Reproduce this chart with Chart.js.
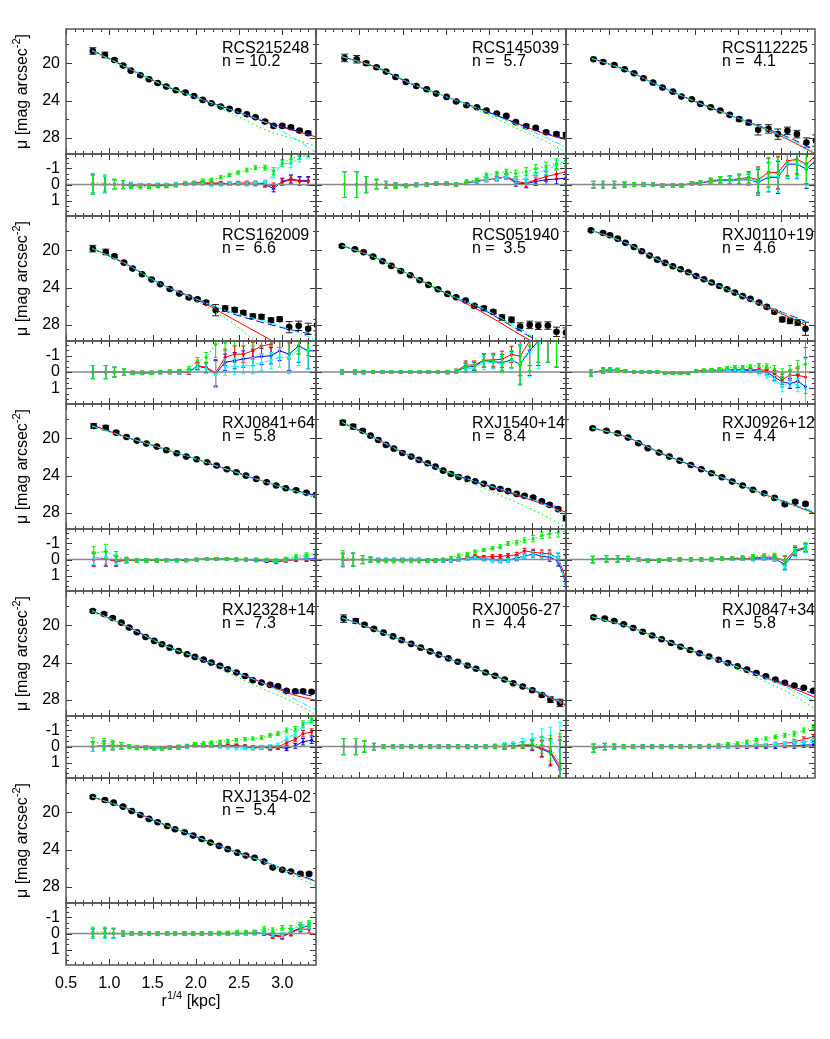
<!DOCTYPE html>
<html><head><meta charset="utf-8">
<script src="https://cdn.jsdelivr.net/npm/chart.js@4.4.0/dist/chart.umd.min.js"></script>
<style>
html,body{margin:0;padding:0;background:#fff;}
#wrap{position:relative;width:830px;height:1039px;overflow:hidden;background:#fff;}
canvas{position:absolute;}
</style></head><body><div id="wrap"></div>
<script>
// ---------- labels / ticks ----------
const names = ['RCS215248','RCS145039','RCS112225','RCS162009','RCS051940','RXJ0110+19','RXJ0841+64','RXJ1540+14','RXJ0926+12','RXJ2328+14','RXJ0056-27','RXJ0847+34','RXJ1354-02'];
const sersicN = [10.2,5.7,4.1,6.6,3.5,4.6,5.8,8.4,4.4,7.3,4.4,5.8,5.4];
const MAIN_TICKS = [20,24,28];
const MAIN_MINOR = [18,22,26];
const RES_TICKS = [-1,0,1];
const X_TICKS = [0.5,1.0,1.5,2.0,2.5,3.0];
const MX = [0.8,1.2,1.6,2.0,2.4,2.8,3.1,3.4];
const MX6 = [0.8,1.2,1.6,2.0,2.4,2.8,3.1,3.28];

// ---------- panel 1 RCS215248 ----------
const r1 = [0.81,0.95,1.06,1.16,1.25,1.36,1.46,1.56,1.66,1.77,1.88,1.98,2.08,2.18,2.29,2.39,2.49,2.59,2.69,2.80,2.90,3.00,3.10,3.20,3.30];
const mu1 = [18.70,19.12,19.66,20.26,20.80,21.29,21.72,22.11,22.50,22.89,23.14,23.50,23.92,24.28,24.64,24.88,25.10,25.45,25.77,26.24,26.70,26.70,26.84,27.20,27.48];
const e1 = [0.35,0.3,0.15,0.12,0.1,0.1,0.08,0.08,0.08,0.08,0.08,0.08,0.08,0.08,0.08,0.08,0.1,0.1,0.1,0.12,0.15,0.15,0.15,0.15,0.2];
const re1 = [0.6,0.5,0.3,0.25,0.15,0.12,0.1,0.1,0.1,0.1,0.1,0.1,0.1,0.1,0.1,0.1,0.1,0.12,0.12,0.15,0.2,0.2,0.25,0.25,0.25];
const fR1 = [18.6,20.45,22.25,23.62,24.95,26.25,27.1,27.9];
const fB1 = [18.6,20.45,22.25,23.62,24.95,26.25,27.05,27.85];
const fG1 = [18.75,20.4,22.2,23.7,25.3,27.1,28.0,28.9];
const fC1 = [18.65,20.45,22.25,23.62,24.95,26.3,27.8,29.6];
const dR1 = [0,0,0,0,0.05,0.05,0.05,0.05,0.05,0,-0.05,-0.1,-0.1,-0.1,-0.1,-0.05,-0.1,-0.1,-0.1,-0.05,0.1,-0.15,-0.3,-0.2,-0.2];
const dB1 = [0,0,0,0,0.05,0.05,0.05,0.05,0.05,0,-0.05,-0.1,-0.1,-0.05,-0.05,-0.05,-0.05,-0.05,-0.05,0,0.25,-0.2,-0.35,-0.25,-0.25];
const dG1 = [-0.1,-0.1,-0.05,0,0.1,0.15,0.15,0.1,0.1,0.05,-0.05,-0.1,-0.25,-0.3,-0.45,-0.6,-0.75,-0.9,-1.05,-1.05,-0.85,-1.35,-1.6,-1.8,-2.0];
const dC1 = [0,0,0,0,0,0.05,0.05,0,0,-0.05,-0.05,-0.05,-0.05,0,0,-0.05,-0.05,-0.05,-0.1,-0.15,-0.6,-1.3,-1.3,-1.65,-1.9];

// ---------- panel 2 RCS145039 ----------
const r2 = [0.83,0.97,1.08,1.20,1.31,1.42,1.54,1.66,1.78,1.89,2.01,2.12,2.24,2.36,2.47,2.59,2.70,2.81,2.93,3.04,3.16,3.28,3.39];
const mu2 = [19.44,19.58,20.01,20.44,20.90,21.47,22.0,22.43,22.78,23.25,23.60,24.10,24.49,24.70,25.06,25.38,25.63,26.30,26.73,26.91,27.37,27.58,27.66];
const e2 = [0.4,0.4,0.2,0.12,0.1,0.1,0.08,0.08,0.08,0.08,0.08,0.08,0.08,0.08,0.1,0.1,0.1,0.12,0.2,0.15,0.15,0.2,0.25];
const re2 = [0.8,0.8,0.5,0.3,0.2,0.15,0.1,0.1,0.1,0.1,0.1,0.1,0.1,0.1,0.12,0.12,0.15,0.2,0.25,0.25,0.3,0.3,0.35];
const fR2 = [19.3,20.45,22.2,23.55,24.9,26.35,27.4,28.2];
const fB2 = [19.3,20.45,22.2,23.55,24.9,26.35,27.35,28.1];
const fG2 = [19.3,20.4,22.15,23.6,25.1,26.9,28.1,29.55];
const fC2 = [19.3,20.45,22.2,23.55,24.95,26.5,27.7,29.0];
const dR2 = [0,0,0,0,0,0.05,0.05,0,0,-0.05,-0.05,0,-0.1,-0.25,-0.3,-0.37,-0.5,-0.2,-0.1,-0.3,-0.5,-0.65,-0.8];
const dB2 = [0,0,0,0,0,0.05,0.05,0,0,-0.05,-0.05,0,-0.1,-0.2,-0.3,-0.35,-0.5,-0.1,-0.05,-0.2,-0.3,-0.35,-0.4];
const dG2 = [0,0,0,-0.05,0,0.1,0.1,0.05,0,-0.05,-0.05,0,-0.2,-0.3,-0.6,-0.7,-0.8,-0.7,-0.8,-1.0,-1.1,-1.3,-1.5];
const dC2 = [0,0,0,0,0,0.05,0.05,0,0,-0.05,-0.05,0,-0.1,-0.25,-0.3,-0.35,-0.5,-0.3,-0.35,-0.7,-0.9,-1.2,-1.5];

// ---------- panel 3 RCS112225 ----------
const r3 = [0.82,0.93,1.06,1.18,1.29,1.40,1.51,1.62,1.74,1.84,1.96,2.06,2.18,2.29,2.40,2.51,2.62,2.73,2.85,2.96,3.07,3.18,3.29,3.40];
const mu3 = [19.58,19.87,20.19,20.65,21.08,21.61,22.08,22.61,23.04,23.57,23.85,24.35,24.70,25.06,25.52,25.98,26.34,27.12,27.02,27.58,27.23,27.58,28.48,28.26];
const e3 = [0.12,0.12,0.1,0.08,0.08,0.08,0.08,0.08,0.08,0.08,0.08,0.08,0.08,0.1,0.15,0.2,0.25,0.55,0.45,0.55,0.4,0.4,0.5,0.6];
const re3 = [0.2,0.2,0.2,0.15,0.12,0.1,0.1,0.1,0.1,0.1,0.1,0.12,0.15,0.2,0.25,0.3,0.35,0.8,0.9,1.0,0.9,0.9,1.2,1.5];
const fR3 = [19.5,20.75,22.5,24.1,25.55,27.0,28.25,29.7];
const fB3 = [19.5,20.75,22.5,24.1,25.5,26.9,28.0,29.3];
const fG3 = [19.5,20.75,22.5,24.1,25.55,27.05,28.3,29.75];
const fC3 = [19.5,20.75,22.5,24.1,25.52,26.95,28.1,29.5];
const dR3 = [0,0,0,0,0,0,0,0.05,0.05,0.05,-0.08,-0.1,-0.25,-0.3,-0.3,-0.35,-0.45,-0.3,-0.76,-0.76,-1.47,-1.57,-1.27,-1.8];
const dB3 = [0,0,0,0,0,0,0,0.05,0.05,0.05,-0.08,-0.1,-0.2,-0.25,-0.25,-0.3,-0.3,-0.15,-0.45,-0.45,-1.27,-1.27,-0.96,-1.5];
const dG3 = [0,0,0,0,0,0,0,0.05,0.05,0.05,-0.08,-0.1,-0.25,-0.3,-0.3,-0.35,-0.4,-0.25,-0.7,-0.7,-1.4,-1.5,-1.2,-1.7];
const dC3 = [0,0,0,0,0,0,0,0.05,0.05,0.05,-0.08,-0.1,-0.2,-0.25,-0.25,-0.3,-0.3,-0.2,-0.5,-0.5,-1.3,-1.3,-1.0,-1.6];

// ---------- panel 4 RCS162009 ----------
const r4 = [0.81,0.96,1.06,1.17,1.27,1.38,1.49,1.59,1.70,1.81,1.92,2.02,2.12,2.23,2.34,2.45,2.55,2.66,2.76,2.87,2.97,3.08,3.19,3.30,3.40];
const mu4 = [19.84,20.19,20.65,21.33,21.97,22.57,23.14,23.64,24.14,24.64,25.06,25.24,25.60,26.41,26.24,26.38,26.70,27.06,27.12,27.48,27.37,28.22,28.08,28.40,28.01];
const e4 = [0.35,0.3,0.15,0.1,0.08,0.08,0.08,0.08,0.08,0.1,0.1,0.12,0.2,0.6,0.3,0.25,0.25,0.25,0.25,0.25,0.25,0.6,0.5,0.6,0.6];
const re4 = [0.4,0.4,0.3,0.2,0.1,0.1,0.1,0.1,0.1,0.12,0.15,0.2,0.3,0.8,0.5,0.5,0.5,0.5,0.5,0.5,0.6,1.0,1.0,1.1,1.2];
const fR4 = [19.8,21.5,23.65,25.2,27.2,29.25,30.8,32.3];
const fB4 = [19.8,21.5,23.65,25.2,26.7,27.8,28.5,29.1];
const fG4 = [19.8,21.5,23.6,25.4,27.6,30.5,32.0,33.5];
const fC4 = [19.8,21.5,23.65,25.2,26.6,27.6,28.5,29.6];
const dR4 = [0,0,0,0,0.05,0.05,0.05,0,0,0,0,-0.39,-0.29,0.04,-0.9,-1.1,-1.1,-1.3,-1.6,-1.7,-2.1,-1.8,-2.1,-2.1,-2.1];
const dB4 = [0,0,0,0,0.05,0.05,0.05,0,0,0,0,-0.35,-0.25,0.1,-0.6,-0.7,-0.8,-0.9,-0.95,-1.0,-1.3,-1.1,-1.6,-1.3,-1.3];
const dG4 = [0,0,0,0,0.05,0.05,0.05,0,-0.05,-0.05,-0.2,-0.7,-0.9,-1.7,-1.8,-2.1,-2.1,-2.1,-2.1,-2.1,-2.1,-2.1,-2.1,-2.1,-2.1];
const dC4 = [0,0,0,0,0.05,0.05,0.05,0,0,0,-0.05,-0.3,-0.2,0.15,-0.3,-0.35,-0.39,-0.4,-0.6,-0.7,-0.9,-0.9,-1.4,-1.3,-1.9];

// ---------- panel 5 RCS051940 ----------
const r5 = [0.80,0.95,1.05,1.16,1.27,1.37,1.48,1.59,1.70,1.80,1.91,2.02,2.12,2.23,2.33,2.44,2.55,2.65,2.76,2.86,2.97,3.07,3.18,3.28,3.39];
const mu5 = [19.55,19.90,20.22,20.69,21.18,21.68,22.22,22.68,23.21,23.71,24.17,24.67,25.02,25.38,25.95,26.20,26.59,27.20,27.44,28.16,27.98,28.08,28.05,28.72,28.80];
const e5 = [0.15,0.12,0.1,0.08,0.08,0.08,0.08,0.08,0.08,0.08,0.08,0.08,0.1,0.12,0.15,0.2,0.2,0.3,0.3,0.4,0.4,0.4,0.4,0.5,0.5];
const re5 = [0.12,0.12,0.1,0.08,0.08,0.08,0.08,0.08,0.08,0.08,0.08,0.1,0.12,0.25,0.25,0.4,0.4,0.5,0.5,1.2,1.5,1.5,1.5,1.8,1.8];
const fR5 = [19.5,20.85,22.7,24.6,26.5,28.7,30.3,31.9];
const fB5 = [19.5,20.85,22.7,24.6,26.2,28.3,29.9,31.5];
const fG5 = [19.5,20.85,22.7,24.6,26.25,28.35,30.0,31.6];
const fC5 = [19.5,20.85,22.7,24.6,26.1,28.1,29.8,31.4];
const dR5 = [0,0,0,0,0,0,0,0,0,0,0,0,-0.05,-0.43,-0.43,-0.72,-0.75,-0.78,-1.08,-0.98,-1.9,-2.1,-2.1,-2.1,-2.1];
const dB5 = [0,0,0,0,0,0,0,0,0,0,0,0,-0.05,-0.3,-0.35,-0.7,-0.65,-0.57,-0.75,-0.47,-1.3,-1.9,-2.1,-2.1,-2.1];
const dG5 = [0,0,0,0,0,0,0,0,0,0,0,0,-0.05,-0.3,-0.4,-0.7,-0.7,-0.6,-0.8,-0.4,-1.6,-2.1,-2.1,-2.1,-2.1];
const dC5 = [0,0,0,0,0,0,0,0,0,0,0,0,-0.05,-0.2,-0.25,-0.55,-0.6,-0.45,-0.7,-0.5,-1.2,-1.7,-2.1,-2.1,-2.1];

// ---------- panel 6 RXJ0110+19 ----------
const r6 = [0.79,0.93,1.01,1.10,1.19,1.29,1.38,1.47,1.56,1.65,1.74,1.83,1.92,2.01,2.10,2.19,2.28,2.37,2.46,2.55,2.64,2.74,2.83,2.92,3.01,3.10,3.19,3.28];
const mu6 = [17.88,18.16,18.41,18.77,19.20,19.66,20.12,20.58,21.01,21.36,21.72,22.04,22.36,22.75,23.10,23.46,23.82,24.17,24.53,24.91,25.20,25.60,26.06,26.59,27.41,27.55,27.73,28.40];
const e6 = [0.12,0.1,0.1,0.08,0.08,0.08,0.08,0.08,0.08,0.08,0.08,0.08,0.08,0.08,0.08,0.08,0.08,0.08,0.08,0.08,0.08,0.1,0.1,0.15,0.25,0.3,0.3,0.7];
const re6 = [0.2,0.15,0.12,0.1,0.08,0.08,0.08,0.08,0.08,0.08,0.08,0.08,0.08,0.08,0.08,0.08,0.08,0.08,0.1,0.1,0.1,0.12,0.15,0.2,0.3,0.3,0.4,1.8];
const fR6 = [17.9,19.25,21.15,22.75,24.3,25.95,27.2,28.05];
const fB6 = [17.9,19.25,21.15,22.75,24.3,25.9,26.95,27.6];
const fG6 = [17.9,19.25,21.15,22.75,24.35,26.1,27.3,28.0];
const fC6 = [17.9,19.25,21.15,22.75,24.3,25.9,27.0,27.75];
const dR6 = [0.05,-0.1,-0.12,-0.12,-0.05,0,0,0,0,0.05,0.05,0.05,0.05,-0.05,-0.1,-0.1,-0.1,-0.15,-0.15,-0.15,-0.15,-0.15,-0.1,0.1,0.45,0.2,0.2,0.3];
const dB6 = [0.05,-0.1,-0.12,-0.12,-0.05,0,0,0,0,0.05,0.05,0.05,0.05,-0.05,-0.05,-0.1,-0.1,-0.1,-0.1,-0.1,-0.1,-0.05,0,0.3,0.6,0.7,0.55,0.9];
const dG6 = [0.05,-0.1,-0.15,-0.15,-0.05,0,0,0,0,0.05,0.05,0.05,0.05,-0.05,-0.1,-0.15,-0.2,-0.25,-0.3,-0.3,-0.35,-0.4,-0.35,-0.2,0.1,-0.1,-0.3,-0.5];
const dC6 = [0.05,-0.1,-0.12,-0.12,-0.05,0,0,0,0,0.05,0.05,0.05,0.05,-0.05,-0.05,-0.1,-0.1,-0.1,-0.1,-0.1,-0.05,0,0.2,0.4,0.9,0.6,0.8,1.0];

// ---------- panel 7 RXJ0841+64 ----------
const r7 = [0.82,0.96,1.08,1.20,1.32,1.43,1.55,1.66,1.78,1.89,2.01,2.13,2.24,2.36,2.47,2.58,2.70,2.82,2.93,3.04,3.16,3.28,3.39];
const mu7 = [18.70,18.88,19.41,19.87,20.26,20.58,20.90,21.29,21.61,21.97,22.25,22.57,22.93,23.32,23.64,24.0,24.35,24.70,25.06,25.34,25.56,25.84,26.06];
const e7 = [0.25,0.25,0.15,0.1,0.08,0.08,0.08,0.08,0.08,0.08,0.08,0.08,0.08,0.08,0.08,0.08,0.08,0.08,0.08,0.08,0.1,0.1,0.1];
const re7 = [0.4,0.45,0.3,0.15,0.1,0.1,0.1,0.08,0.08,0.08,0.08,0.08,0.08,0.08,0.08,0.08,0.08,0.08,0.1,0.1,0.1,0.12,0.12];
const fR7 = [18.6,19.9,21.05,22.22,23.45,24.66,25.5,26.2];
const fB7 = [18.6,19.9,21.05,22.22,23.45,24.66,25.48,26.15];
const fG7 = [18.8,19.9,21.0,22.2,23.45,24.7,25.6,26.4];
const fC7 = [18.7,19.9,21.05,22.22,23.45,24.66,25.5,26.25];
const dR7 = [0,-0.05,0.1,0.05,0.05,0.05,0.05,0.05,0.05,0.05,0,-0.05,-0.05,-0.05,0,0,0,0.05,0.1,0.05,0,0,0];
const dB7 = [0,-0.05,0.1,0.05,0.05,0.05,0.05,0.05,0.05,0.05,0,-0.05,-0.05,-0.05,0,0,0.05,0.1,0.15,0.05,0,-0.05,-0.05];
const dG7 = [-0.4,-0.5,-0.2,0,0.05,0.05,0.05,0.05,0.05,0.05,0,-0.05,-0.05,-0.05,-0.05,0,0,0,0.05,-0.05,-0.2,-0.3,-0.4];
const dC7 = [-0.1,-0.2,0,0.05,0.05,0.05,0.05,0.05,0.05,0.05,0,-0.05,-0.05,-0.05,0,0,0,0.05,0.1,0,-0.1,-0.2,-0.3];

// ---------- panel 8 RXJ1540+14 ----------
const r8 = [0.81,0.93,1.04,1.13,1.22,1.31,1.40,1.50,1.60,1.69,1.79,1.88,1.97,2.06,2.15,2.25,2.34,2.44,2.54,2.63,2.72,2.82,2.91,3.01,3.11,3.20,3.30,3.39];
const mu8 = [18.34,18.77,19.20,19.73,20.19,20.72,21.12,21.58,21.97,22.32,22.68,23.04,23.47,23.82,24.14,24.35,24.60,24.88,25.24,25.42,25.66,25.95,26.16,26.34,26.73,27.12,27.58,28.54];
const e8 = [0.25,0.25,0.12,0.1,0.08,0.08,0.08,0.08,0.08,0.08,0.08,0.08,0.08,0.08,0.08,0.08,0.08,0.08,0.08,0.08,0.1,0.1,0.1,0.12,0.12,0.15,0.15,0.3];
const re8 = [0.4,0.4,0.25,0.15,0.1,0.1,0.1,0.1,0.1,0.1,0.1,0.1,0.1,0.1,0.1,0.1,0.1,0.1,0.1,0.12,0.12,0.15,0.15,0.2,0.2,0.25,0.3,1.5];
const fR8 = [18.3,20.1,21.97,23.55,24.85,26.05,26.95,27.95];
const fB8 = [18.3,20.1,21.97,23.55,24.82,25.95,26.85,27.6];
const fG8 = [18.25,20.05,21.9,23.55,25.2,26.8,28.05,29.6];
const fC8 = [18.3,20.1,21.97,23.55,24.8,25.9,26.9,28.2];
const dR8 = [0.05,0,0,0,0.02,0.02,0.02,0.02,0.02,0.02,0.05,0.05,0.05,0.05,0,-0.1,-0.2,-0.15,-0.2,-0.2,-0.25,-0.3,-0.55,-0.45,-0.4,-0.35,-0.1,1.2];
const dB8 = [0,0,0,0,0.02,0.02,0.02,0.02,0.02,0.02,0.05,0.05,0.05,0.05,0,-0.05,-0.15,-0.05,0,0.05,0.05,-0.1,-0.2,-0.35,-0.2,-0.15,0.1,1.5];
const dG8 = [-0.15,0,0,0,0.1,0.1,0.1,0.1,0.1,0.1,0.05,0.05,0,-0.1,-0.25,-0.35,-0.5,-0.6,-0.7,-0.8,-1.0,-1.05,-1.2,-1.3,-1.5,-1.6,-1.7,-1.75];
const dC8 = [0,0,0,0,0.02,0.02,0.02,0.02,0.02,0.02,0.05,0.05,0.05,0.05,0,-0.05,-0.1,0,0.1,0.1,0.05,-0.05,-0.2,-0.3,-0.3,-0.25,-0.15,1.7];

// ---------- panel 9 RXJ0926+12 ----------
const r9 = [0.81,0.97,1.10,1.22,1.34,1.45,1.58,1.70,1.82,1.95,2.07,2.19,2.31,2.43,2.55,2.67,2.80,2.92,3.04,3.16,3.28];
const mu9 = [18.94,19.20,19.48,19.94,20.54,21.08,21.54,21.97,22.40,22.86,23.32,23.74,24.17,24.64,25.06,25.52,25.88,26.38,27.05,26.80,27.02];
const e9 = [0.12,0.12,0.12,0.1,0.08,0.08,0.08,0.08,0.08,0.08,0.08,0.08,0.08,0.08,0.08,0.08,0.1,0.1,0.15,0.15,0.15];
const re9 = [0.2,0.2,0.2,0.15,0.12,0.1,0.1,0.1,0.1,0.1,0.1,0.1,0.1,0.1,0.1,0.12,0.12,0.15,0.3,0.25,0.25];
const fR9 = [18.9,19.85,21.6,23.05,24.52,25.98,27.0,28.08];
const fB9 = [18.9,19.85,21.6,23.05,24.52,25.95,26.95,27.95];
const fG9 = [18.95,19.85,21.6,23.05,24.55,26.1,27.1,28.15];
const fC9 = [18.9,19.85,21.6,23.05,24.52,25.95,26.95,27.95];
const dR9 = [0,-0.05,-0.05,-0.05,0,0.05,0.05,0,0,0,0,0,-0.05,-0.05,-0.05,-0.1,-0.15,-0.15,0.1,-0.6,-0.75];
const dB9 = [0,-0.05,-0.05,-0.05,0,0.05,0.05,0,0,0,0,0,-0.05,-0.05,-0.05,-0.05,-0.1,-0.05,0.3,-0.5,-0.7];
const dG9 = [0,-0.05,-0.05,-0.05,0,0.05,0.05,0,0,0,0,-0.05,-0.05,-0.1,-0.15,-0.2,-0.25,-0.25,0.05,-0.6,-0.8];
const dC9 = [0,-0.05,-0.05,-0.05,0,0.05,0.05,0,0,0,0,0,-0.05,-0.05,-0.05,-0.05,-0.1,-0.05,0.4,-0.45,-0.7];

// ---------- panel 10 RXJ2328+14 ----------
const r10 = [0.81,0.94,1.04,1.14,1.23,1.32,1.42,1.52,1.61,1.70,1.80,1.90,1.99,2.09,2.18,2.28,2.37,2.47,2.57,2.66,2.76,2.86,2.95,3.05,3.15,3.24,3.34];
const mu10 = [18.48,18.80,19.23,19.73,20.26,20.76,21.26,21.68,22.04,22.40,22.75,23.10,23.39,23.68,24.0,24.35,24.70,25.06,25.42,25.88,26.13,26.38,26.52,27.02,27.05,27.05,27.12];
const e10 = [0.15,0.15,0.12,0.1,0.08,0.08,0.08,0.08,0.08,0.08,0.08,0.08,0.08,0.08,0.08,0.08,0.08,0.08,0.08,0.08,0.1,0.1,0.1,0.12,0.12,0.12,0.12];
const re10 = [0.3,0.3,0.25,0.2,0.12,0.1,0.1,0.1,0.1,0.1,0.1,0.1,0.1,0.1,0.1,0.1,0.1,0.1,0.1,0.1,0.12,0.12,0.12,0.15,0.15,0.2,0.2];
const fR10 = [18.45,20.1,22.0,23.42,24.8,26.25,27.35,28.05];
const fB10 = [18.45,20.1,22.0,23.42,24.8,26.25,27.1,27.66];
const fG10 = [18.6,20.05,21.95,23.5,25.2,26.9,28.1,29.6];
const fC10 = [18.45,20.1,22.0,23.42,24.8,26.3,27.7,29.1];
const dR10 = [0,-0.05,-0.05,-0.05,0,0.05,0.05,0.1,0.1,0.05,0.05,0,-0.05,-0.05,-0.05,-0.05,-0.05,-0.05,0,0.1,0.05,0.1,0.05,-0.25,-0.45,-0.8,-0.9];
const dB10 = [0,-0.05,-0.05,-0.05,0,0.05,0.05,0.1,0.1,0.05,0.05,0,-0.05,-0.05,-0.05,-0.05,-0.05,-0.05,0,0.05,0.05,0.05,0.05,0.1,-0.05,-0.3,-0.4];
const dG10 = [-0.25,-0.2,-0.15,-0.05,0,0.1,0.1,0.1,0.1,0.05,0,-0.05,-0.15,-0.2,-0.25,-0.3,-0.35,-0.4,-0.45,-0.5,-0.55,-0.7,-0.8,-1.0,-1.1,-1.4,-1.7];
const dC10 = [0,-0.05,-0.05,-0.05,0,0.05,0.05,0.1,0.1,0.05,0.05,0,-0.05,-0.05,-0.05,0,0.05,0.1,0.1,0.1,0.05,0,-0.1,-0.5,-0.8,-1.3,-1.6];

// ---------- panel 11 RXJ0056-27 ----------
const r11 = [0.82,0.96,1.06,1.17,1.28,1.39,1.49,1.60,1.71,1.82,1.92,2.03,2.14,2.25,2.35,2.46,2.57,2.68,2.78,2.89,3.00,3.11,3.21,3.32];
const mu11 = [19.3,19.55,19.95,20.4,20.8,21.2,21.6,22.0,22.4,22.8,23.15,23.55,23.9,24.3,24.65,25.05,25.4,25.8,26.2,26.55,26.95,27.45,27.95,28.3];
const e11 = [0.4,0.25,0.15,0.1,0.08,0.08,0.08,0.08,0.08,0.08,0.08,0.08,0.08,0.08,0.08,0.08,0.08,0.1,0.1,0.12,0.15,0.2,0.3,0.4];
const re11 = [0.5,0.5,0.35,0.2,0.12,0.1,0.1,0.1,0.1,0.1,0.1,0.1,0.1,0.1,0.1,0.1,0.12,0.15,0.15,0.2,0.3,0.5,0.8,1.8];
const fR11 = [19.2,20.55,22.0,23.45,24.85,26.25,27.3,28.6];
const fB11 = [19.2,20.55,22.0,23.45,24.85,26.25,27.25,28.45];
const fG11 = [19.2,20.55,22.0,23.45,24.85,26.3,27.35,28.7];
const fC11 = [19.2,20.55,22.0,23.45,24.85,26.25,27.2,28.5];
const dR11 = [0,0,0,0,0,0,0,0,0,0,0,0,0,0,0,0,0,0,-0.05,-0.1,-0.1,0.1,0.3,1.2];
const dB11 = [0,0,0,0,0,0,0,0,0,0,0,0,0,0,0,0,0,0,-0.05,-0.1,-0.05,0.15,0.4,1.4];
const dG11 = [0,0,0,0,0,0,0,0,0,0,0,0,0,0,0,0,0,0,-0.05,-0.1,-0.15,-0.1,0.1,1.0];
const dC11 = [0,0,0,0,0,0,0,0,0,0,0,0,0,0,0,0,-0.05,-0.1,-0.15,-0.3,-0.5,-0.6,-0.4,0.3];

// ---------- panel 12 RXJ0847+34 ----------
const r12 = [0.82,0.95,1.06,1.17,1.28,1.39,1.50,1.61,1.72,1.83,1.94,2.05,2.16,2.27,2.38,2.49,2.60,2.71,2.82,2.93,3.04,3.15,3.26,3.37];
const mu12 = [19.15,19.3,19.55,19.9,20.3,20.7,21.1,21.5,21.9,22.3,22.65,23.0,23.35,23.7,24.05,24.4,24.75,25.1,25.45,25.8,26.15,26.45,26.7,27.0];
const e12 = [0.15,0.12,0.1,0.08,0.08,0.08,0.08,0.08,0.08,0.08,0.08,0.08,0.08,0.08,0.08,0.08,0.08,0.08,0.08,0.08,0.1,0.1,0.1,0.1];
const re12 = [0.25,0.2,0.15,0.12,0.1,0.1,0.1,0.1,0.1,0.1,0.1,0.1,0.1,0.1,0.1,0.1,0.1,0.1,0.1,0.12,0.12,0.15,0.15,0.15];
const fR12 = [19.1,20.1,21.45,22.85,24.15,25.55,26.6,27.75];
const fB12 = [19.1,20.1,21.45,22.85,24.12,25.45,26.45,27.4];
const fG12 = [19.1,20.05,21.45,22.9,24.35,25.95,27.3,29.0];
const fC12 = [19.1,20.1,21.45,22.85,24.15,25.6,26.8,28.2];
const dR12 = [0.1,0,0,0,0,0,0,0,0,0,0,0,0,0,0,-0.05,-0.05,-0.1,-0.1,-0.15,-0.2,-0.3,-0.45,-0.6];
const dB12 = [0.1,0,0,0,0,0,0,0,0,0,0,0,0,0,0,0,0,0,0,0,-0.05,-0.05,-0.1,-0.1];
const dG12 = [0.1,0,0,0,0,0,0,0,0,0,0,0,-0.05,-0.1,-0.15,-0.2,-0.3,-0.4,-0.5,-0.6,-0.7,-0.8,-1.0,-1.2];
const dC12 = [0.1,0,0,0,0,0,0,0,0,0,0,0,0,0,0,-0.05,-0.05,-0.1,-0.1,-0.15,-0.2,-0.25,-0.3,-0.4];

// ---------- panel 13 RXJ1354-02 ----------
const r13 = [0.81,0.95,1.05,1.16,1.26,1.36,1.46,1.56,1.67,1.76,1.87,1.97,2.07,2.17,2.27,2.37,2.48,2.58,2.68,2.79,2.89,3.00,3.10,3.21,3.31];
const mu13 = [18.38,18.70,18.98,19.41,19.87,20.30,20.72,21.08,21.47,21.83,22.14,22.50,22.86,23.25,23.60,23.95,24.32,24.64,24.88,25.28,25.92,26.16,26.34,26.59,26.59];
const e13 = [0.15,0.12,0.12,0.1,0.08,0.08,0.08,0.08,0.08,0.08,0.08,0.08,0.08,0.08,0.08,0.08,0.08,0.08,0.08,0.1,0.1,0.1,0.1,0.12,0.12];
const re13 = [0.3,0.3,0.3,0.15,0.1,0.1,0.1,0.1,0.1,0.1,0.1,0.1,0.1,0.1,0.1,0.1,0.1,0.1,0.12,0.12,0.15,0.15,0.2,0.2,0.2];
const fR13 = [18.35,19.6,21.2,22.6,24.05,25.3,26.4,27.45];
const fB13 = [18.35,19.6,21.2,22.6,24.05,25.3,26.4,27.4];
const fG13 = [18.4,19.6,21.2,22.6,24.1,25.5,26.7,27.9];
const fC13 = [18.35,19.6,21.2,22.6,24.05,25.3,26.45,27.5];
const dR13 = [0,0,0,0,0,0,0,0,0,0,0,0,0,0,0,0,0,0,-0.05,0,0.15,0.2,-0.05,-0.3,-0.25];
const dB13 = [0,0,0,0,0,0,0,0,0,0,0,0,0,0,0,0,0,0,-0.05,0,0.1,0.15,-0.1,-0.35,-0.5];
const dG13 = [-0.1,-0.1,-0.05,0,0,0,0,0,0,0,0,0,0,0,-0.05,-0.05,-0.1,-0.1,-0.1,-0.3,-0.2,-0.35,-0.3,-0.5,-0.6];
const dC13 = [0,0,0,0,0,0,0,0,0,0,0,0,0,0,0,0,0,0,-0.05,-0.05,0.05,0.1,-0.3,-0.4,-0.5];

const panels = [
  [r1,mu1,e1,re1,MX,fR1,fB1,fG1,fC1,dR1,dB1,dG1,dC1],
  [r2,mu2,e2,re2,MX,fR2,fB2,fG2,fC2,dR2,dB2,dG2,dC2],
  [r3,mu3,e3,re3,MX,fR3,fB3,fG3,fC3,dR3,dB3,dG3,dC3],
  [r4,mu4,e4,re4,MX,fR4,fB4,fG4,fC4,dR4,dB4,dG4,dC4],
  [r5,mu5,e5,re5,MX,fR5,fB5,fG5,fC5,dR5,dB5,dG5,dC5],
  [r6,mu6,e6,re6,MX6,fR6,fB6,fG6,fC6,dR6,dB6,dG6,dC6],
  [r7,mu7,e7,re7,MX,fR7,fB7,fG7,fC7,dR7,dB7,dG7,dC7],
  [r8,mu8,e8,re8,MX,fR8,fB8,fG8,fC8,dR8,dB8,dG8,dC8],
  [r9,mu9,e9,re9,MX,fR9,fB9,fG9,fC9,dR9,dB9,dG9,dC9],
  [r10,mu10,e10,re10,MX,fR10,fB10,fG10,fC10,dR10,dB10,dG10,dC10],
  [r11,mu11,e11,re11,MX,fR11,fB11,fG11,fC11,dR11,dB11,dG11,dC11],
  [r12,mu12,e12,re12,MX,fR12,fB12,fG12,fC12,dR12,dB12,dG12,dC12],
  [r13,mu13,e13,re13,MX,fR13,fB13,fG13,fC13,dR13,dB13,dG13,dC13]
];

// ---------- layout & style ----------
const FONT = "'Liberation Sans', Arial, Helvetica, sans-serif";
Chart.defaults.font.family = FONT;
Chart.defaults.color = '#000';
const COLS = [66, 316, 566];
const WIDTHS = [250, 250, 249];
const ROW_TOP = [29, 216, 404, 591, 778];
const RES_H = [62, 63, 62, 62, 62];
const MAIN_H = 125;
const M = 3;
const XMIN = 0.5, XMAX = 3.39;
const YMAIN = [16.35, 29.7];
const YRES = [-1.9, 1.95];
const RED = '#ff0000', BLUE = '#0000ff', GREEN = '#00ee00', CYAN = '#00ffff';

const pts = (xs, ys) => xs.map((x, i) => ({x: x, y: ys[i]}));

const errorBars = {
  id: 'errorBars',
  beforeDatasetDraw(chart, args) {
    const ds = chart.data.datasets[args.index];
    if (!ds.errs) return;
    const meta = args.meta, ys = chart.scales.y, a = chart.chartArea, ctx = chart.ctx;
    ctx.save();
    ctx.beginPath(); ctx.rect(a.left, a.top, a.right - a.left, a.bottom - a.top); ctx.clip();
    ctx.strokeStyle = ds.errColor; ctx.lineWidth = 1;
    ctx.beginPath();
    meta.data.forEach((el, i) => {
      const e = ds.errs[i]; if (e == null) return;
      const v = ds.data[i].y, px = el.x;
      const y1 = ys.getPixelForValue(v - e), y2 = ys.getPixelForValue(v + e);
      ctx.moveTo(px, y1); ctx.lineTo(px, y2);
      ctx.moveTo(px - ds.cap, y1); ctx.lineTo(px + ds.cap, y1);
      ctx.moveTo(px - ds.cap, y2); ctx.lineTo(px + ds.cap, y2);
    });
    ctx.stroke();
    ctx.restore();
  }
};

function drawSup(ctx, parts, x, y, align) {
  const widths = parts.map(p => { ctx.font = (p[1] ? '11px ' : '16px ') + FONT; return ctx.measureText(p[0]).width; });
  const total = widths.reduce((s, w) => s + w, 0);
  let cx = align === 'center' ? x - total / 2 : x;
  parts.forEach((p, i) => {
    ctx.font = (p[1] ? '11px ' : '16px ') + FONT;
    ctx.fillText(p[0], cx, p[1] ? y - 7 : y);
    cx += widths[i];
  });
}

const frame = {
  id: 'frame',
  afterDraw(chart, args, o) {
    const {ctx, chartArea: a} = chart;
    const xs = chart.scales.x, ys = chart.scales.y;
    ctx.save();
    ctx.strokeStyle = '#3a3a3a'; ctx.lineWidth = 1;
    ctx.beginPath();
    for (let k = 5; k <= 33; k++) {
      const px = Math.round(xs.getPixelForValue(k / 10)) + 0.5;
      const L = k % 5 === 0 ? 6 : 3;
      ctx.moveTo(px, a.top); ctx.lineTo(px, a.top + L);
      ctx.moveTo(px, a.bottom); ctx.lineTo(px, a.bottom - L);
    }
    const yt = [];
    if (o.kind === 'main') {
      MAIN_TICKS.forEach(v => yt.push([v, 6]));
      MAIN_MINOR.forEach(v => yt.push([v, 3]));
    } else {
      for (let k = -5; k <= 5; k++) yt.push([k / 3, k % 3 === 0 ? 6 : 3]);
    }
    yt.forEach(([v, L]) => {
      const py = Math.round(ys.getPixelForValue(v)) + 0.5;
      if (py < a.top || py > a.bottom) return;
      ctx.moveTo(a.left, py); ctx.lineTo(a.left + L, py);
      ctx.moveTo(a.right, py); ctx.lineTo(a.right - L, py);
    });
    ctx.stroke();
    ctx.lineWidth = 1.5; ctx.strokeStyle = '#555';
    ctx.strokeRect(a.left, a.top, a.right - a.left, a.bottom - a.top);
    ctx.fillStyle = '#000';
    ctx.textAlign = 'left'; ctx.textBaseline = 'alphabetic';
    if (o.label) {
      ctx.font = '16px ' + FONT;
      ctx.fillText(o.label, a.left + 156, a.top + 24);
      ctx.fillText('n = ' + o.n, a.left + 156, a.top + 37);
    }
    if (o.yTitle) {
      ctx.save();
      ctx.translate(27, (a.top + a.bottom) / 2);
      ctx.rotate(-Math.PI / 2);
      drawSup(ctx, [['\u03bc [mag arcsec', false], ['-2', true], [']', false]], 0, 0, 'center');
      ctx.restore();
    }
    if (o.xTitle) {
      drawSup(ctx, [['r', false], ['1/4', true], [' [kpc]', false]], (a.left + a.right) / 2, a.bottom + 41, 'center');
    }
    ctx.restore();
  }
};

const wrap = document.getElementById('wrap');
function addCanvas(left, top, w, h) {
  const c = document.createElement('canvas');
  c.width = w; c.height = h;
  c.style.left = left + 'px'; c.style.top = top + 'px';
  c.style.width = w + 'px'; c.style.height = h + 'px';
  wrap.appendChild(c);
  return c;
}

function noPad(s) { s.paddingTop = 0; s.paddingBottom = 0; s.paddingLeft = 0; s.paddingRight = 0; }

function yScale(range, show, ticks, leftW) {
  return {
    type: 'linear', min: range[0], max: range[1], reverse: true, display: show,
    afterFit: s => { if (show) { s.width = leftW; noPad(s); } },
    afterBuildTicks: s => { s.ticks = ticks.map(v => ({value: v})); },
    grid: {display: false, drawTicks: false}, border: {display: false},
    ticks: {font: {size: 16, family: FONT}, color: '#000', padding: 6, callback: v => String(v)}
  };
}

function baseOptions(padding, scales, frameOpts) {
  return {
    responsive: false, animation: false, events: [],
    layout: {padding: padding, autoPadding: false},
    plugins: {legend: {display: false}, tooltip: {enabled: false}, frame: frameOpts},
    scales: scales
  };
}

panels.forEach((p, i) => {
  const [rr, mu, err, rerr, mx, fR, fB, fG, fC, dR, dB, dG, dC] = p;
  const col = i % 3, row = Math.floor(i / 3);
  const L = COLS[col], W = WIDTHS[col], T = ROW_TOP[row], RH = RES_H[row];
  const isLeft = col === 0, isBottom = i === 12;
  const cLeft = isLeft ? 0 : L - M;
  const cW = isLeft ? L + W + M : W + 2 * M;
  const padL = isLeft ? 0 : M;

  // main profile panel
  const mainCanvas = addCanvas(cLeft, T - M, cW, MAIN_H + 2 * M);
  const line = (ys, color, dash) => ({data: pts(mx, ys), showLine: true, borderColor: color, borderWidth: 1,
    borderDash: dash, pointRadius: 0, cubicInterpolationMode: 'monotone'});
  new Chart(mainCanvas.getContext('2d'), {
    type: 'scatter',
    data: {datasets: [
      line(fG, GREEN, [1.5, 3]),
      line(fC, CYAN, [6, 2, 1.5, 2]),
      line(fB, BLUE, [8, 4]),
      line(fR, RED, []),
      {data: pts(rr, mu), showLine: false, pointRadius: 3.3, backgroundColor: '#000', borderColor: '#000', borderWidth: 0,
       errs: err, errColor: '#222', cap: 3.5}
    ]},
    options: baseOptions({left: padL, right: M, top: M, bottom: M}, {
      x: {type: 'linear', min: XMIN, max: XMAX, display: false},
      y: yScale(YMAIN, isLeft, MAIN_TICKS, L)
    }, {kind: 'main', label: names[i], n: sersicN[i].toFixed(1).padStart(4, ' '), yTitle: isLeft}),
    plugins: [errorBars, frame]
  });

  // residual panel
  const extraB = isBottom ? 55 : M;
  const resCanvas = addCanvas(cLeft, T + MAIN_H - M, cW, RH + M + extraB);
  const res = (ys, color, dash) => ({data: pts(rr, ys), showLine: true, borderColor: color, backgroundColor: color,
    borderWidth: 1, borderDash: dash, pointRadius: 1.6, pointBorderWidth: 0, errs: rerr, errColor: color, cap: 2});
  const xScale = isBottom ? {
    type: 'linear', min: XMIN, max: XMAX, display: true, position: 'bottom',
    afterFit: s => { s.height = 55; noPad(s); },
    afterBuildTicks: s => { s.ticks = X_TICKS.map(v => ({value: v})); },
    grid: {display: false, drawTicks: false}, border: {display: false},
    ticks: {font: {size: 16, family: FONT}, color: '#000', padding: 9, maxRotation: 0, autoSkip: false,
      callback: v => Number(v).toFixed(1)}
  } : {type: 'linear', min: XMIN, max: XMAX, display: false};
  new Chart(resCanvas.getContext('2d'), {
    type: 'scatter',
    data: {datasets: [
      {data: [{x: XMIN, y: 0}, {x: XMAX, y: 0}], showLine: true, borderColor: '#8a8a8a', borderWidth: 1.5, pointRadius: 0},
      res(dG, GREEN, [1.5, 2.5]),
      res(dC, CYAN, [5, 2, 1.5, 2]),
      res(dR, RED, []),
      res(dB, BLUE, [])
    ]},
    options: baseOptions({left: padL, right: M, top: M, bottom: isBottom ? 0 : M}, {
      x: xScale,
      y: yScale(YRES, isLeft, RES_TICKS, L)
    }, {kind: 'res', xTitle: isBottom}),
    plugins: [errorBars, frame]
  });
});
</script>
</body></html>
